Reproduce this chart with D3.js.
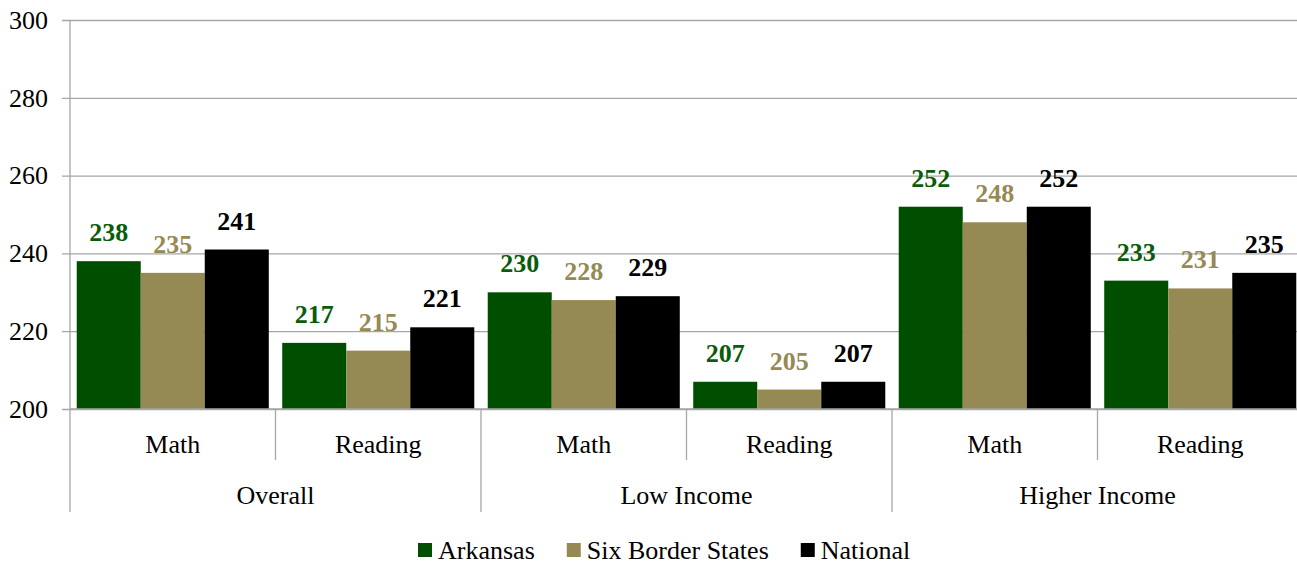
<!DOCTYPE html>
<html>
<head>
<meta charset="utf-8">
<script src="https://cdn.jsdelivr.net/npm/d3@7"></script>
<style>
  body { margin: 0; background: #fff; }
  svg text { font-family: "Liberation Serif", "Times New Roman", "DejaVu Serif", serif !important; }
</style>
</head>
<body>
<div id="chart"></div>
<script>
// chart data
const groups = ['Overall', 'Low Income', 'Higher Income'];
const subjects = ['Math', 'Reading'];
const series = ['Arkansas', 'Six Border States', 'National'];
const arkansas = [238, 217, 230, 207, 252, 233];
const borderStates = [235, 215, 228, 205, 248, 231];
const national = [241, 221, 229, 207, 252, 235];
const yTicks = [200, 220, 240, 260, 280, 300];

const colors = ['#004f00', '#968a54', '#000000'];
const labelColors = ['#0a5c0a', '#968a54', '#000000'];

const width = 1297;
const height = 566;
const margin = { top: 20, left: 70, right: -6, bottom: 157 };
const plotRight = width - margin.right;
const plotBottom = height - margin.bottom;

// one row per category (group x subject)
const rows = [];
groups.forEach((g, gi) => {
  subjects.forEach((s, si) => {
    const i = gi * subjects.length + si;
    rows.push({ key: i, group: g, subject: s, values: [arkansas[i], borderStates[i], national[i]] });
  });
});

const svg = d3.select('#chart')
  .append('svg')
  .attr('width', width)
  .attr('height', height)
  .style('display', 'block');

const y = d3.scaleLinear()
  .domain([200, 300])
  .range([plotBottom, margin.top]);

const x0 = d3.scaleBand()
  .domain(rows.map(d => d.key))
  .range([margin.left, plotRight]);

const x1 = d3.scaleBand()
  .domain(d3.range(series.length))
  .range([0, x0.bandwidth()])
  .paddingOuter(0.105);

// grid + y axis
const yAxis = d3.axisLeft(y)
  .tickValues(yTicks)
  .tickSize(-(plotRight - margin.left))
  .tickPadding(22)
  .tickFormat(d3.format('d'));

const yg = svg.append('g')
  .attr('transform', `translate(${margin.left},0)`)
  .call(yAxis)
  .attr('font-family', null)
  .attr('font-size', null);
yg.select('.domain').remove();
yg.selectAll('.tick line')
  .attr('x1', -8)
  .attr('stroke', '#a6a6a6')
  .attr('stroke-width', 1.3);
yg.selectAll('.tick text')
  .attr('fill', '#000')
  .style('font-size', '26px');

// bars
const cat = svg.append('g')
  .selectAll('g')
  .data(rows)
  .join('g')
  .attr('transform', d => `translate(${x0(d.key)},0)`);

cat.selectAll('rect')
  .data(d => d.values.map((v, i) => ({ v, i })))
  .join('rect')
  .attr('x', d => x1(d.i))
  .attr('y', d => y(d.v))
  .attr('width', x1.bandwidth())
  .attr('height', d => y(200) - y(d.v))
  .attr('fill', d => colors[d.i]);

cat.selectAll('text')
  .data(d => d.values.map((v, i) => ({ v, i })))
  .join('text')
  .attr('x', d => x1(d.i) + x1.bandwidth() / 2)
  .attr('y', d => y(d.v) - 20)
  .attr('text-anchor', 'middle')
  .attr('fill', d => labelColors[d.i])
  .style('font-size', '26px')
  .style('font-weight', 'bold')
  .text(d => d.v);

// x axis with two label levels
const axis = svg.append('g');
axis.append('line')
  .attr('x1', margin.left).attr('x2', plotRight)
  .attr('y1', plotBottom).attr('y2', plotBottom)
  .attr('stroke', '#a6a6a6').attr('stroke-width', 1.3);

axis.append('line')
  .attr('x1', margin.left).attr('x2', margin.left)
  .attr('y1', margin.top).attr('y2', plotBottom + 103)
  .attr('stroke', '#a6a6a6').attr('stroke-width', 1.3);

const bounds = d3.range(rows.length + 1);
axis.selectAll('.sep')
  .data(bounds.slice(1))
  .join('line')
  .attr('class', 'sep')
  .attr('x1', i => margin.left + i * x0.step())
  .attr('x2', i => margin.left + i * x0.step())
  .attr('y1', plotBottom)
  .attr('y2', i => plotBottom + (i % subjects.length === 0 ? 103 : 51))
  .attr('stroke', '#a6a6a6').attr('stroke-width', 1.3);

axis.selectAll('.sub')
  .data(rows)
  .join('text')
  .attr('class', 'sub')
  .attr('x', d => x0(d.key) + x0.bandwidth() / 2)
  .attr('y', plotBottom + 44)
  .attr('text-anchor', 'middle')
  .style('font-size', '26px')
  .text(d => d.subject);

axis.selectAll('.grp')
  .data(groups)
  .join('text')
  .attr('class', 'grp')
  .attr('x', (d, i) => margin.left + (i + 0.5) * subjects.length * x0.step())
  .attr('y', plotBottom + 95)
  .attr('text-anchor', 'middle')
  .style('font-size', '26px')
  .text(d => d);

// legend
const legend = svg.append('g').attr('transform', 'translate(418,550)');
let lx = 0;
series.forEach((s, i) => {
  const item = legend.append('g').attr('transform', `translate(${lx},0)`);
  item.append('rect')
    .attr('x', 0).attr('y', -7)
    .attr('width', 14).attr('height', 14)
    .attr('fill', colors[i]);
  const t = item.append('text')
    .attr('x', 20).attr('y', 9)
    .style('font-size', '26px')
    .text(s);
  lx += 20 + t.node().getComputedTextLength() + 32;
});
</script>
</body>
</html>
